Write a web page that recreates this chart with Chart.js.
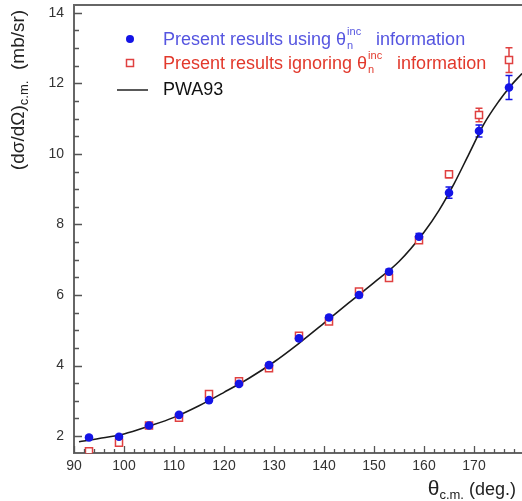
<!DOCTYPE html>
<html>
<head>
<meta charset="utf-8">
<script src="https://cdn.jsdelivr.net/npm/chart.js@4.4.1/dist/chart.umd.min.js"></script>
<style>
html, body { margin: 0; padding: 0; background: #fff; }
#wrap { width: 522px; height: 501px; position: relative; }
</style>
</head>
<body>
<div id="wrap"><canvas id="xsec"></canvas></div>
<script>
// Values

var angles = [93, 99, 105, 111, 117, 123, 129, 135, 141, 147, 153, 159, 165, 171, 177];

var usingInc    = [1.96, 1.98, 2.30, 2.60, 3.02, 3.48, 4.01, 4.77, 5.36, 6.00, 6.66, 7.65, 8.90, 10.65, 11.88];
var usingIncErr = [0.04, 0.04, 0.04, 0.05, 0.05, 0.05, 0.06, 0.06, 0.06, 0.07, 0.07, 0.09, 0.16, 0.17, 0.34];

var ignoringInc    = [1.57, 1.81, 2.30, 2.52, 3.19, 3.55, 3.92, 4.84, 5.25, 6.10, 6.48, 7.55, 9.42, 11.10, 12.66];
var ignoringIncErr = [0.04, 0.04, 0.04, 0.05, 0.05, 0.05, 0.06, 0.06, 0.06, 0.07, 0.07, 0.08, 0.10, 0.19, 0.35];

var pwaAngles = [91, 95, 100, 105, 110, 115, 120, 125, 130, 135, 140, 145, 150, 155, 160, 163, 166, 169, 172, 175, 177, 179.6];
var pwaValues = [1.84, 1.93, 2.06, 2.28, 2.53, 2.86, 3.24, 3.64, 4.10, 4.63, 5.20, 5.78, 6.35, 6.95, 7.78, 8.40, 9.15, 10.00, 10.85, 11.50, 11.87, 12.28];

var BLUE = '#1414e6';
var RED = '#e04040';
var FONT = '"Liberation Sans", Arial, sans-serif';

function pts(xs, ys) {
    return xs.map(function (x, i) { return { x: x, y: ys[i] }; });
}

function near(v, step) {
    return Math.abs(v - Math.round(v / step) * step) < 1e-6;
}

// draws text pieces one after another: [text, size, dy, color]
function richText(ctx, x, y, parts) {
    parts.forEach(function (p) {
        ctx.font = p[1] + 'px ' + FONT;
        ctx.fillStyle = p[3];
        ctx.fillText(p[0], x, y + p[2]);
        x += ctx.measureText(p[0]).width;
    });
}

function richWidth(ctx, parts) {
    var w = 0;
    parts.forEach(function (p) {
        ctx.font = p[1] + 'px ' + FONT;
        w += ctx.measureText(p[0]).width;
    });
    return w;
}

function noPadding(s) {
    s.paddingTop = 0;
    s.paddingBottom = 0;
    s.paddingLeft = 0;
    s.paddingRight = 0;
}

var errorBars = {
    id: 'errorBars',
    beforeDatasetsDraw: function (chart) {
        var ctx = chart.ctx, xs = chart.scales.x, ys = chart.scales.y;
        var sets = [[usingInc, usingIncErr, BLUE], [ignoringInc, ignoringIncErr, RED]];
        ctx.save();
        ctx.lineWidth = 1.5;
        sets.forEach(function (s) {
            ctx.strokeStyle = s[2];
            angles.forEach(function (a, i) {
                var px = xs.getPixelForValue(a);
                var top = ys.getPixelForValue(s[0][i] + s[1][i]);
                var bot = ys.getPixelForValue(s[0][i] - s[1][i]);
                ctx.beginPath();
                ctx.moveTo(px, top); ctx.lineTo(px, bot);
                ctx.moveTo(px - 3.5, top); ctx.lineTo(px + 3.5, top);
                ctx.moveTo(px - 3.5, bot); ctx.lineTo(px + 3.5, bot);
                ctx.stroke();
            });
        });
        ctx.restore();
    }
};

var decorations = {
    id: 'decorations',
    afterDraw: function (chart) {
        var ctx = chart.ctx, area = chart.chartArea;
        var xs = chart.scales.x, ys = chart.scales.y;
        ctx.save();

        // top frame line
        ctx.strokeStyle = '#666';
        ctx.lineWidth = 2;
        ctx.beginPath();
        ctx.moveTo(area.left, area.top);
        ctx.lineTo(area.right + 2, area.top);
        ctx.stroke();

        // inward ticks
        ctx.lineWidth = 1.3;
        ctx.strokeStyle = '#555';
        ctx.beginPath();
        xs.ticks.forEach(function (t) {
            if (t.value < xs.min || t.value > xs.max) return;
            var px = Math.round(xs.getPixelForValue(t.value)) + 0.5;
            var len = near(t.value, 10) ? 7 : 4;
            ctx.moveTo(px, area.bottom);
            ctx.lineTo(px, area.bottom - len);
        });
        ys.ticks.forEach(function (t) {
            if (t.value < ys.min || t.value > ys.max) return;
            var py = Math.round(ys.getPixelForValue(t.value)) + 0.5;
            var len = near(t.value, 2) ? 8 : 5;
            ctx.moveTo(area.left, py);
            ctx.lineTo(area.left + len, py);
        });
        ctx.stroke();

        // legend
        ctx.textBaseline = 'alphabetic';
        ctx.textAlign = 'left';
        ctx.fillStyle = BLUE;
        ctx.beginPath();
        ctx.arc(130, 39, 4, 0, Math.PI * 2);
        ctx.fill();
        ctx.strokeStyle = RED;
        ctx.lineWidth = 1.5;
        ctx.strokeRect(126.5, 59.5, 7, 7);
        ctx.strokeStyle = '#222';
        ctx.lineWidth = 1.5;
        ctx.beginPath();
        ctx.moveTo(117, 90);
        ctx.lineTo(148, 90);
        ctx.stroke();

        var blueTxt = '#5555e0', redTxt = '#e2392c';
        ctx.font = '18px ' + FONT;
        var w1 = ctx.measureText('Present results using \u03b8').width;
        richText(ctx, 163, 45, [['Present results using \u03b8', 18, 0, blueTxt]]);
        richText(ctx, 163 + w1 + 1, 45, [['n', 11, 4, blueTxt]]);
        richText(ctx, 163 + w1 + 1, 45, [['inc', 11, -10, blueTxt]]);
        richText(ctx, 163 + w1 + 30, 45, [['information', 18, 0, blueTxt]]);

        ctx.font = '18px ' + FONT;
        var w2 = ctx.measureText('Present results ignoring \u03b8').width;
        richText(ctx, 163, 69, [['Present results ignoring \u03b8', 18, 0, redTxt]]);
        richText(ctx, 163 + w2 + 1, 69, [['n', 11, 4, redTxt]]);
        richText(ctx, 163 + w2 + 1, 69, [['inc', 11, -10, redTxt]]);
        richText(ctx, 163 + w2 + 30, 69, [['information', 18, 0, redTxt]]);

        richText(ctx, 163, 95, [['PWA93', 18, 0, '#111']]);

        // x axis title
        var xt = [['\u03b8', 21, 0, '#222'], ['c.m.', 13, 4, '#222'], [' (deg.)', 18, 0, '#222']];
        richText(ctx, 516 - richWidth(ctx, xt), 495, xt);

        // y axis title, rotated
        var yt = [['(d\u03c3/d\u03a9)', 19, 0, '#222'], ['c.m.', 13, 4, '#222'], ['  (mb/sr)', 19, 0, '#222']];
        var yw = richWidth(ctx, yt);
        ctx.translate(24, 90 + yw / 2);
        ctx.rotate(-Math.PI / 2);
        richText(ctx, 0, 0, yt);

        ctx.restore();
    }
};

var chart = new Chart(document.getElementById('xsec'), {
    type: 'scatter',
    data: {
        datasets: [{
            label: 'Present results using inc information',
            data: pts(angles, usingInc),
            pointStyle: 'circle',
            pointRadius: 4.3,
            pointBackgroundColor: BLUE,
            pointBorderColor: BLUE,
            pointBorderWidth: 0
        }, {
            label: 'Present results ignoring inc information',
            data: pts(angles, ignoringInc),
            pointStyle: 'rect',
            pointRadius: 5,
            pointBackgroundColor: '#fff',
            pointBorderColor: RED,
            pointBorderWidth: 1.5
        }, {
            label: 'PWA93',
            data: pts(pwaAngles, pwaValues),
            showLine: true,
            cubicInterpolationMode: 'monotone',
            borderColor: '#1a1a1a',
            borderWidth: 1.6,
            pointRadius: 0
        }]
    },
    options: {
        responsive: true,
        maintainAspectRatio: false,
        animation: false,
        layout: { autoPadding: false, padding: { left: 0, right: 0, top: 5, bottom: 0 } },
        plugins: {
            legend: { display: false },
            tooltip: { enabled: false }
        },
        scales: {
            x: {
                type: 'linear',
                min: 90,
                max: 179.6,
                afterFit: function (s) { s.height = 48; noPadding(s); },
                grid: { display: false, drawTicks: false },
                border: { display: true, color: '#666', width: 2 },
                ticks: {
                    stepSize: 2,
                    autoSkip: false,
                    includeBounds: false,
                    maxRotation: 0,
                    padding: 5,
                    color: '#333',
                    font: { family: FONT, size: 14 },
                    callback: function (v) { return near(v, 10) ? Math.round(v) : ''; }
                }
            },
            y: {
                type: 'linear',
                min: 1.52,
                max: 14.22,
                afterFit: function (s) { s.width = 74; noPadding(s); },
                grid: { display: false, drawTicks: false },
                border: { display: true, color: '#666', width: 2 },
                ticks: {
                    stepSize: 0.5,
                    autoSkip: false,
                    includeBounds: false,
                    padding: 10,
                    color: '#333',
                    font: { family: FONT, size: 14 },
                    callback: function (v) { return near(v, 2) ? Math.round(v) : ''; }
                }
            }
        }
    },
    plugins: [errorBars, decorations]
});
</script>
</body>
</html>
